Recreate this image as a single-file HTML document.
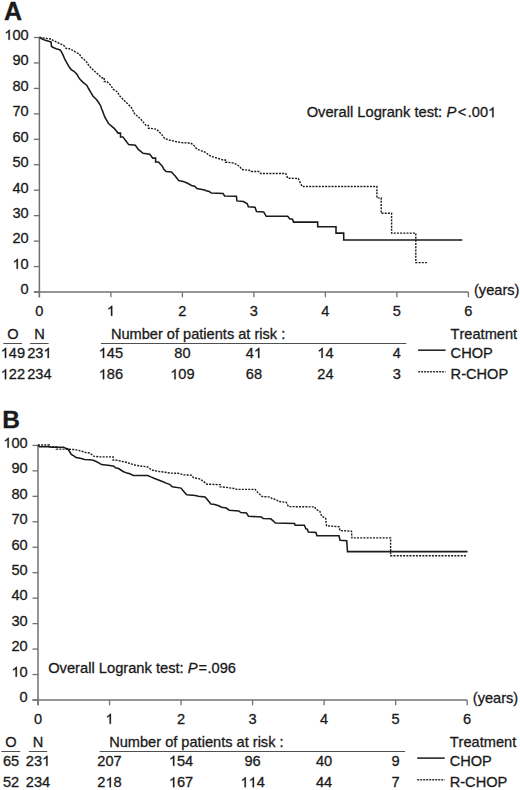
<!DOCTYPE html>
<html><head><meta charset="utf-8"><style>
html,body{margin:0;padding:0;background:#fff;}
svg{display:block;}
text{font-family:"Liberation Sans", sans-serif;font-kerning:none;font-size:14.6px;fill:#1a1a1a;stroke:#1a1a1a;stroke-width:0.3px;}
.h{fill-opacity:0;stroke-opacity:0;}
.one{fill:#1a1a1a;stroke:#1a1a1a;stroke-width:0.3px;}
</style></head><body>
<svg width="520" height="790" viewBox="0 0 520 790">
<rect width="520" height="790" fill="#fff"/>
<text x="3.9" y="19.6" style="font-size:25px;font-weight:bold">A</text>
<line x1="39.4" y1="37.5" x2="39.4" y2="297.3" stroke="#707070" stroke-width="1.5"/>
<line x1="33.9" y1="292.0" x2="468.4" y2="292.0" stroke="#707070" stroke-width="1.6"/>
<line x1="33.9" y1="292.00" x2="39.4" y2="292.00" stroke="#707070" stroke-width="1.3"/>
<text x="28.7" y="294.30" text-anchor="end">0</text>
<line x1="33.9" y1="266.55" x2="39.4" y2="266.55" stroke="#707070" stroke-width="1.3"/>
<text id="t1" x="28.7" y="268.85" text-anchor="end"><tspan class="h">1</tspan>0</text>
<line x1="33.9" y1="241.10" x2="39.4" y2="241.10" stroke="#707070" stroke-width="1.3"/>
<text x="28.7" y="243.40" text-anchor="end">20</text>
<line x1="33.9" y1="215.65" x2="39.4" y2="215.65" stroke="#707070" stroke-width="1.3"/>
<text x="28.7" y="217.95" text-anchor="end">30</text>
<line x1="33.9" y1="190.20" x2="39.4" y2="190.20" stroke="#707070" stroke-width="1.3"/>
<text x="28.7" y="192.50" text-anchor="end">40</text>
<line x1="33.9" y1="164.75" x2="39.4" y2="164.75" stroke="#707070" stroke-width="1.3"/>
<text x="28.7" y="167.05" text-anchor="end">50</text>
<line x1="33.9" y1="139.30" x2="39.4" y2="139.30" stroke="#707070" stroke-width="1.3"/>
<text x="28.7" y="141.60" text-anchor="end">60</text>
<line x1="33.9" y1="113.85" x2="39.4" y2="113.85" stroke="#707070" stroke-width="1.3"/>
<text x="28.7" y="116.15" text-anchor="end">70</text>
<line x1="33.9" y1="88.40" x2="39.4" y2="88.40" stroke="#707070" stroke-width="1.3"/>
<text x="28.7" y="90.70" text-anchor="end">80</text>
<line x1="33.9" y1="62.95" x2="39.4" y2="62.95" stroke="#707070" stroke-width="1.3"/>
<text x="28.7" y="65.25" text-anchor="end">90</text>
<line x1="33.9" y1="37.50" x2="39.4" y2="37.50" stroke="#707070" stroke-width="1.3"/>
<text id="t2" x="28.7" y="39.80" text-anchor="end"><tspan class="h">1</tspan>00</text>
<line x1="39.40" y1="292.0" x2="39.40" y2="297.3" stroke="#707070" stroke-width="1.3"/>
<text x="39.40" y="315.80" text-anchor="middle">0</text>
<line x1="110.90" y1="292.0" x2="110.90" y2="297.3" stroke="#707070" stroke-width="1.3"/>
<text id="t3" x="110.90" y="315.80" text-anchor="middle"><tspan class="h">1</tspan></text>
<line x1="182.40" y1="292.0" x2="182.40" y2="297.3" stroke="#707070" stroke-width="1.3"/>
<text x="182.40" y="315.80" text-anchor="middle">2</text>
<line x1="253.90" y1="292.0" x2="253.90" y2="297.3" stroke="#707070" stroke-width="1.3"/>
<text x="253.90" y="315.80" text-anchor="middle">3</text>
<line x1="325.40" y1="292.0" x2="325.40" y2="297.3" stroke="#707070" stroke-width="1.3"/>
<text x="325.40" y="315.80" text-anchor="middle">4</text>
<line x1="396.90" y1="292.0" x2="396.90" y2="297.3" stroke="#707070" stroke-width="1.3"/>
<text x="396.90" y="315.80" text-anchor="middle">5</text>
<line x1="468.40" y1="292.0" x2="468.40" y2="297.3" stroke="#707070" stroke-width="1.3"/>
<text x="468.40" y="315.80" text-anchor="middle">6</text>
<text x="474.0" y="294.6">(years)</text>
<polyline points="39.5,37.3 43.5,37.9 46.9,38.5 51.5,39.0 52.7,40.2 56.2,41.9 60.2,43.7 63.7,45.4 66.0,48.3 69.4,48.8 72.3,50.0 75.8,52.3 79.2,54.0 81.5,57.5 83.8,59.2 84.6,60.0 86.9,62.3 89.2,66.2 93.0,69.8 97.2,73.5 101.5,77.7 104.2,77.7 104.2,81.5 106.9,81.5 110.8,85.4 113.1,89.2 116.9,91.5 120.0,96.2 123.8,100.0 127.7,103.8 131.5,107.7 134.6,113.8 140.4,118.7 146.0,125.4 148.4,125.4 148.4,128.3 150.8,128.3 156.5,129.2 161.3,134.0 164.6,138.5 169.2,140.0 175.4,141.5 181.5,142.6 190.8,143.1 193.8,145.4 196.9,149.2 201.5,150.8 205.4,152.3 209.2,155.4 213.1,156.9 218.5,158.5 223.1,160.0 225.4,160.0 225.4,162.3 227.7,162.3 233.8,163.1 236.9,164.6 240.0,166.9 241.7,169.4 250.4,170.5 251.2,171.5 258.8,171.5 260.8,173.5 285.8,173.5 287.7,178.2 298.3,178.5 302.1,186.5 376.9,186.5 376.9,197.9 381.2,197.9 381.2,213.3 391.6,213.3 391.6,233.1 415.8,233.1 415.8,262.6 426.9,262.6" fill="none" stroke="#1a1a1a" stroke-width="1.4" stroke-dasharray="2 1.2"/>
<polyline points="39.5,37.5 42.3,39.0 45.2,40.2 48.7,41.3 51.0,41.9 51.5,46.5 53.8,47.7 56.2,48.8 60.2,50.0 61.3,51.7 63.1,55.2 64.8,59.2 67.1,63.3 69.4,67.3 71.2,69.6 74.0,71.3 76.9,74.2 78.5,77.2 80.0,79.2 83.1,82.3 86.9,85.4 88.5,88.5 90.8,92.3 93.1,96.2 96.2,99.2 98.5,102.3 100.8,106.2 101.5,108.5 102.9,111.9 104.6,116.7 108.5,123.5 114.2,128.3 118.1,133.1 120.5,133.1 120.5,136.9 122.9,136.9 125.8,140.8 128.7,144.6 135.4,145.2 138.3,149.4 143.1,153.3 149.8,154.2 152.7,158.1 155.6,158.1 155.6,161.9 158.5,161.9 160.0,163.8 162.3,166.2 163.8,169.2 166.2,171.5 171.5,171.9 173.1,173.8 175.4,176.2 177.7,179.2 179.2,180.8 182.3,181.3 185.4,182.3 188.5,183.8 191.5,185.4 194.6,186.2 196.9,188.5 200.8,189.2 204.6,190.0 206.2,190.8 209.2,191.5 211.5,193.1 223.1,193.6 224.6,195.9 236.4,196.2 236.9,200.9 243.5,201.5 247.3,203.8 248.3,206.7 255.0,207.3 256.5,211.5 263.7,211.9 266.2,216.3 287.7,216.3 289.6,218.8 292.5,219.2 293.5,222.1 317.7,222.1 317.7,226.7 336.0,226.7 336.0,233.1 343.7,233.1 343.7,239.9 462.3,239.9" fill="none" stroke="#1a1a1a" stroke-width="1.55" stroke-linejoin="miter"/>
<text x="306.7" y="117.3" style="font-size:14.7px">Overall Logrank test:</text><text x="446.6" y="117.3" style="font-size:14.8px;font-style:italic">P</text><text x="457.8" y="117.3" style="font-size:14.6px">&lt;</text><text id="t4" x="467.8" y="117.3" style="font-size:14.6px">.00<tspan class="h">1</tspan></text>
<text x="12.9" y="338.5" text-anchor="middle">O</text>
<text x="39.4" y="338.5" text-anchor="middle">N</text>
<text x="110.9" y="338.5">Number of patients at risk :</text>
<text x="450.6" y="338.5">Treatment</text>
<line x1="3.3000000000000007" y1="343.5" x2="22.1" y2="343.5" stroke="#505050" stroke-width="1"/>
<line x1="30.2" y1="343.5" x2="48.599999999999994" y2="343.5" stroke="#505050" stroke-width="1"/>
<line x1="101.0" y1="343.5" x2="406.29999999999995" y2="343.5" stroke="#505050" stroke-width="1"/>
<text id="t5" x="12.9" y="357.9" text-anchor="middle"><tspan class="h">1</tspan>49</text>
<text id="t6" x="39.4" y="357.9" text-anchor="middle">23<tspan class="h">1</tspan></text>
<text id="t7" x="110.90" y="357.9" text-anchor="middle"><tspan class="h">1</tspan>45</text>
<text x="182.40" y="357.9" text-anchor="middle">80</text>
<text id="t8" x="253.90" y="357.9" text-anchor="middle">4<tspan class="h">1</tspan></text>
<text id="t9" x="325.40" y="357.9" text-anchor="middle"><tspan class="h">1</tspan>4</text>
<text x="396.90" y="357.9" text-anchor="middle">4</text>
<text id="t10" x="12.9" y="379.2" text-anchor="middle"><tspan class="h">1</tspan>22</text>
<text x="39.4" y="379.2" text-anchor="middle">234</text>
<text id="t11" x="110.90" y="379.2" text-anchor="middle"><tspan class="h">1</tspan>86</text>
<text id="t12" x="182.40" y="379.2" text-anchor="middle"><tspan class="h">1</tspan>09</text>
<text x="253.90" y="379.2" text-anchor="middle">68</text>
<text x="325.40" y="379.2" text-anchor="middle">24</text>
<text x="396.90" y="379.2" text-anchor="middle">3</text>
<line x1="418.1" y1="350.2" x2="445.6" y2="350.2" stroke="#1a1a1a" stroke-width="1.5"/>
<line x1="418.1" y1="371.7" x2="445.6" y2="371.7" stroke="#333" stroke-width="1.5" stroke-dasharray="2 1"/>
<text x="450.6" y="357.9">CHOP</text>
<text x="450.6" y="379.2">R-CHOP</text>
<text x="2.2" y="427.8" style="font-size:24.5px;font-weight:bold">B</text>
<line x1="38.0" y1="445.4" x2="38.0" y2="705.3" stroke="#707070" stroke-width="1.5"/>
<line x1="32.5" y1="700.0" x2="467.18" y2="700.0" stroke="#707070" stroke-width="1.6"/>
<line x1="32.5" y1="700.00" x2="38.0" y2="700.00" stroke="#707070" stroke-width="1.3"/>
<text x="27.7" y="702.30" text-anchor="end">0</text>
<line x1="32.5" y1="674.54" x2="38.0" y2="674.54" stroke="#707070" stroke-width="1.3"/>
<text id="t13" x="27.7" y="676.84" text-anchor="end"><tspan class="h">1</tspan>0</text>
<line x1="32.5" y1="649.08" x2="38.0" y2="649.08" stroke="#707070" stroke-width="1.3"/>
<text x="27.7" y="651.38" text-anchor="end">20</text>
<line x1="32.5" y1="623.62" x2="38.0" y2="623.62" stroke="#707070" stroke-width="1.3"/>
<text x="27.7" y="625.92" text-anchor="end">30</text>
<line x1="32.5" y1="598.16" x2="38.0" y2="598.16" stroke="#707070" stroke-width="1.3"/>
<text x="27.7" y="600.46" text-anchor="end">40</text>
<line x1="32.5" y1="572.70" x2="38.0" y2="572.70" stroke="#707070" stroke-width="1.3"/>
<text x="27.7" y="575.00" text-anchor="end">50</text>
<line x1="32.5" y1="547.24" x2="38.0" y2="547.24" stroke="#707070" stroke-width="1.3"/>
<text x="27.7" y="549.54" text-anchor="end">60</text>
<line x1="32.5" y1="521.78" x2="38.0" y2="521.78" stroke="#707070" stroke-width="1.3"/>
<text x="27.7" y="524.08" text-anchor="end">70</text>
<line x1="32.5" y1="496.32" x2="38.0" y2="496.32" stroke="#707070" stroke-width="1.3"/>
<text x="27.7" y="498.62" text-anchor="end">80</text>
<line x1="32.5" y1="470.86" x2="38.0" y2="470.86" stroke="#707070" stroke-width="1.3"/>
<text x="27.7" y="473.16" text-anchor="end">90</text>
<line x1="32.5" y1="445.40" x2="38.0" y2="445.40" stroke="#707070" stroke-width="1.3"/>
<text id="t14" x="27.7" y="447.70" text-anchor="end"><tspan class="h">1</tspan>00</text>
<line x1="38.00" y1="700.0" x2="38.00" y2="705.3" stroke="#707070" stroke-width="1.3"/>
<text x="38.00" y="723.80" text-anchor="middle">0</text>
<line x1="109.53" y1="700.0" x2="109.53" y2="705.3" stroke="#707070" stroke-width="1.3"/>
<text id="t15" x="109.53" y="723.80" text-anchor="middle"><tspan class="h">1</tspan></text>
<line x1="181.06" y1="700.0" x2="181.06" y2="705.3" stroke="#707070" stroke-width="1.3"/>
<text x="181.06" y="723.80" text-anchor="middle">2</text>
<line x1="252.59" y1="700.0" x2="252.59" y2="705.3" stroke="#707070" stroke-width="1.3"/>
<text x="252.59" y="723.80" text-anchor="middle">3</text>
<line x1="324.12" y1="700.0" x2="324.12" y2="705.3" stroke="#707070" stroke-width="1.3"/>
<text x="324.12" y="723.80" text-anchor="middle">4</text>
<line x1="395.65" y1="700.0" x2="395.65" y2="705.3" stroke="#707070" stroke-width="1.3"/>
<text x="395.65" y="723.80" text-anchor="middle">5</text>
<line x1="467.18" y1="700.0" x2="467.18" y2="705.3" stroke="#707070" stroke-width="1.3"/>
<text x="467.18" y="723.80" text-anchor="middle">6</text>
<text x="472.8" y="702.6">(years)</text>
<polyline points="37.9,445.0 49.3,445.0 49.3,446.8 56.3,446.8 56.3,449.1 62.7,449.1 69.6,449.3 75.4,449.6 81.2,451.0 85.8,452.5 90.0,453.1 93.8,456.2 99.2,456.9 110.8,456.9 113.1,456.9 113.1,460.0 115.4,460.0 120.8,461.1 126.2,462.3 130.8,463.8 136.2,465.4 142.3,466.2 147.7,466.9 151.5,470.0 159.2,471.5 165.4,472.3 170.0,473.1 178.1,473.3 183.8,474.8 191.5,475.2 193.5,477.7 200.2,479.0 204.0,481.9 206.9,484.2 210.0,484.2 217.7,484.6 220.1,484.6 220.1,486.9 222.5,486.9 234.0,488.5 236.9,489.4 255.2,489.4 256.9,491.5 260.0,494.6 262.3,496.6 269.2,496.9 272.3,498.5 276.9,500.0 278.5,501.5 286.2,502.3 288.5,506.6 314.6,506.9 316.0,509.4 319.8,511.3 321.7,516.2 325.6,518.1 326.5,525.8 339.0,526.7 340.0,530.6 351.5,531.2 351.9,537.9 390.6,537.9 390.6,555.8 466.5,555.8" fill="none" stroke="#1a1a1a" stroke-width="1.4" stroke-dasharray="2 1.2"/>
<polyline points="37.9,445.4 39.6,446.7 50.0,446.7 51.2,447.2 63.8,447.2 65.6,448.3 67.9,449.0 69.6,451.5 71.3,454.4 74.2,456.2 76.0,457.5 78.8,457.9 81.2,458.5 84.6,459.6 90.0,459.8 93.1,460.2 96.2,461.5 99.2,463.1 101.5,464.6 105.4,464.9 110.0,465.4 113.8,466.2 115.4,467.7 118.5,468.5 120.8,470.0 123.1,471.5 126.9,473.1 130.0,473.8 133.1,475.4 147.7,475.5 150.8,476.9 154.6,478.5 158.5,480.0 162.3,481.5 166.2,483.1 170.0,484.6 172.3,486.7 181.0,488.1 183.8,491.5 186.7,494.8 195.4,495.4 198.3,496.3 205.0,496.9 207.9,500.2 210.8,504.0 213.8,504.2 218.7,505.8 221.5,507.3 226.3,508.1 229.2,510.2 238.8,511.0 240.8,512.5 246.5,513.1 248.5,516.3 261.5,516.9 263.1,518.5 270.8,518.8 273.1,520.8 275.4,523.1 294.6,523.5 295.2,525.2 304.4,525.2 305.8,528.7 307.3,529.2 308.3,531.9 316.0,532.5 316.9,535.8 339.0,535.8 340.0,540.2 346.7,540.8 347.5,551.6 467.5,551.6" fill="none" stroke="#1a1a1a" stroke-width="1.55"/>
<text x="48.2" y="672.9" style="font-size:14.7px">Overall Logrank test:</text><text x="187.8" y="672.9" style="font-size:14.8px;font-style:italic">P</text><text x="198.4" y="672.9" style="font-size:14.6px">=</text><text x="207.5" y="672.9" style="font-size:14.6px">.096</text>
<text x="11.0" y="746.6" text-anchor="middle">O</text>
<text x="38.0" y="746.6" text-anchor="middle">N</text>
<text x="109.2" y="746.6">Number of patients at risk :</text>
<text x="449.7" y="746.6">Treatment</text>
<line x1="1.4000000000000004" y1="751.5" x2="20.2" y2="751.5" stroke="#505050" stroke-width="1"/>
<line x1="28.8" y1="751.5" x2="47.2" y2="751.5" stroke="#505050" stroke-width="1"/>
<line x1="99.6" y1="751.5" x2="405.04999999999995" y2="751.5" stroke="#505050" stroke-width="1"/>
<text x="11.0" y="765.8" text-anchor="middle">65</text>
<text id="t16" x="38.0" y="765.8" text-anchor="middle">23<tspan class="h">1</tspan></text>
<text x="109.53" y="765.8" text-anchor="middle">207</text>
<text id="t17" x="181.06" y="765.8" text-anchor="middle"><tspan class="h">1</tspan>54</text>
<text x="252.59" y="765.8" text-anchor="middle">96</text>
<text x="324.12" y="765.8" text-anchor="middle">40</text>
<text x="395.65" y="765.8" text-anchor="middle">9</text>
<text x="11.0" y="787.2" text-anchor="middle">52</text>
<text x="38.0" y="787.2" text-anchor="middle">234</text>
<text id="t18" x="109.53" y="787.2" text-anchor="middle">2<tspan class="h">1</tspan>8</text>
<text id="t19" x="181.06" y="787.2" text-anchor="middle"><tspan class="h">1</tspan>67</text>
<text id="t20" x="252.59" y="787.2" text-anchor="middle"><tspan class="h">1</tspan><tspan class="h">1</tspan>4</text>
<text x="324.12" y="787.2" text-anchor="middle">44</text>
<text x="395.65" y="787.2" text-anchor="middle">7</text>
<line x1="417.2" y1="758.0999999999999" x2="444.7" y2="758.0999999999999" stroke="#1a1a1a" stroke-width="1.5"/>
<line x1="417.2" y1="779.7" x2="444.7" y2="779.7" stroke="#333" stroke-width="1.5" stroke-dasharray="2 1"/>
<text x="449.7" y="765.8">CHOP</text>
<text x="449.7" y="787.2">R-CHOP</text>
<g><path class="one" vector-effect="non-scaling-stroke" transform="translate(12.45,268.85) scale(0.007129,-0.007129)" d="M763,0L583,0L583,1102Q518,1043 415,984Q312,925 223,894L223,1061Q374,1129 492.5,1231Q611,1333 659,1409L763,1409Z"/>
<path class="one" vector-effect="non-scaling-stroke" transform="translate(4.34,39.80) scale(0.007129,-0.007129)" d="M763,0L583,0L583,1102Q518,1043 415,984Q312,925 223,894L223,1061Q374,1129 492.5,1231Q611,1333 659,1409L763,1409Z"/>
<path class="one" vector-effect="non-scaling-stroke" transform="translate(106.84,315.80) scale(0.007129,-0.007129)" d="M763,0L583,0L583,1102Q518,1043 415,984Q312,925 223,894L223,1061Q374,1129 492.5,1231Q611,1333 659,1409L763,1409Z"/>
<path class="one" vector-effect="non-scaling-stroke" transform="translate(488.10,117.30) scale(0.007129,-0.007129)" d="M763,0L583,0L583,1102Q518,1043 415,984Q312,925 223,894L223,1061Q374,1129 492.5,1231Q611,1333 659,1409L763,1409Z"/>
<path class="one" vector-effect="non-scaling-stroke" transform="translate(0.72,357.90) scale(0.007129,-0.007129)" d="M763,0L583,0L583,1102Q518,1043 415,984Q312,925 223,894L223,1061Q374,1129 492.5,1231Q611,1333 659,1409L763,1409Z"/>
<path class="one" vector-effect="non-scaling-stroke" transform="translate(43.45,357.90) scale(0.007129,-0.007129)" d="M763,0L583,0L583,1102Q518,1043 415,984Q312,925 223,894L223,1061Q374,1129 492.5,1231Q611,1333 659,1409L763,1409Z"/>
<path class="one" vector-effect="non-scaling-stroke" transform="translate(98.72,357.90) scale(0.007129,-0.007129)" d="M763,0L583,0L583,1102Q518,1043 415,984Q312,925 223,894L223,1061Q374,1129 492.5,1231Q611,1333 659,1409L763,1409Z"/>
<path class="one" vector-effect="non-scaling-stroke" transform="translate(253.90,357.90) scale(0.007129,-0.007129)" d="M763,0L583,0L583,1102Q518,1043 415,984Q312,925 223,894L223,1061Q374,1129 492.5,1231Q611,1333 659,1409L763,1409Z"/>
<path class="one" vector-effect="non-scaling-stroke" transform="translate(317.27,357.90) scale(0.007129,-0.007129)" d="M763,0L583,0L583,1102Q518,1043 415,984Q312,925 223,894L223,1061Q374,1129 492.5,1231Q611,1333 659,1409L763,1409Z"/>
<path class="one" vector-effect="non-scaling-stroke" transform="translate(0.72,379.20) scale(0.007129,-0.007129)" d="M763,0L583,0L583,1102Q518,1043 415,984Q312,925 223,894L223,1061Q374,1129 492.5,1231Q611,1333 659,1409L763,1409Z"/>
<path class="one" vector-effect="non-scaling-stroke" transform="translate(98.72,379.20) scale(0.007129,-0.007129)" d="M763,0L583,0L583,1102Q518,1043 415,984Q312,925 223,894L223,1061Q374,1129 492.5,1231Q611,1333 659,1409L763,1409Z"/>
<path class="one" vector-effect="non-scaling-stroke" transform="translate(170.22,379.20) scale(0.007129,-0.007129)" d="M763,0L583,0L583,1102Q518,1043 415,984Q312,925 223,894L223,1061Q374,1129 492.5,1231Q611,1333 659,1409L763,1409Z"/>
<path class="one" vector-effect="non-scaling-stroke" transform="translate(11.45,676.84) scale(0.007129,-0.007129)" d="M763,0L583,0L583,1102Q518,1043 415,984Q312,925 223,894L223,1061Q374,1129 492.5,1231Q611,1333 659,1409L763,1409Z"/>
<path class="one" vector-effect="non-scaling-stroke" transform="translate(3.34,447.70) scale(0.007129,-0.007129)" d="M763,0L583,0L583,1102Q518,1043 415,984Q312,925 223,894L223,1061Q374,1129 492.5,1231Q611,1333 659,1409L763,1409Z"/>
<path class="one" vector-effect="non-scaling-stroke" transform="translate(105.47,723.80) scale(0.007129,-0.007129)" d="M763,0L583,0L583,1102Q518,1043 415,984Q312,925 223,894L223,1061Q374,1129 492.5,1231Q611,1333 659,1409L763,1409Z"/>
<path class="one" vector-effect="non-scaling-stroke" transform="translate(42.05,765.80) scale(0.007129,-0.007129)" d="M763,0L583,0L583,1102Q518,1043 415,984Q312,925 223,894L223,1061Q374,1129 492.5,1231Q611,1333 659,1409L763,1409Z"/>
<path class="one" vector-effect="non-scaling-stroke" transform="translate(168.88,765.80) scale(0.007129,-0.007129)" d="M763,0L583,0L583,1102Q518,1043 415,984Q312,925 223,894L223,1061Q374,1129 492.5,1231Q611,1333 659,1409L763,1409Z"/>
<path class="one" vector-effect="non-scaling-stroke" transform="translate(105.47,787.20) scale(0.007129,-0.007129)" d="M763,0L583,0L583,1102Q518,1043 415,984Q312,925 223,894L223,1061Q374,1129 492.5,1231Q611,1333 659,1409L763,1409Z"/>
<path class="one" vector-effect="non-scaling-stroke" transform="translate(168.88,787.20) scale(0.007129,-0.007129)" d="M763,0L583,0L583,1102Q518,1043 415,984Q312,925 223,894L223,1061Q374,1129 492.5,1231Q611,1333 659,1409L763,1409Z"/>
<path class="one" vector-effect="non-scaling-stroke" transform="translate(240.40,787.20) scale(0.007129,-0.007129)" d="M763,0L583,0L583,1102Q518,1043 415,984Q312,925 223,894L223,1061Q374,1129 492.5,1231Q611,1333 659,1409L763,1409Z"/>
<path class="one" vector-effect="non-scaling-stroke" transform="translate(248.53,787.20) scale(0.007129,-0.007129)" d="M763,0L583,0L583,1102Q518,1043 415,984Q312,925 223,894L223,1061Q374,1129 492.5,1231Q611,1333 659,1409L763,1409Z"/></g>
</svg>
</body></html>
